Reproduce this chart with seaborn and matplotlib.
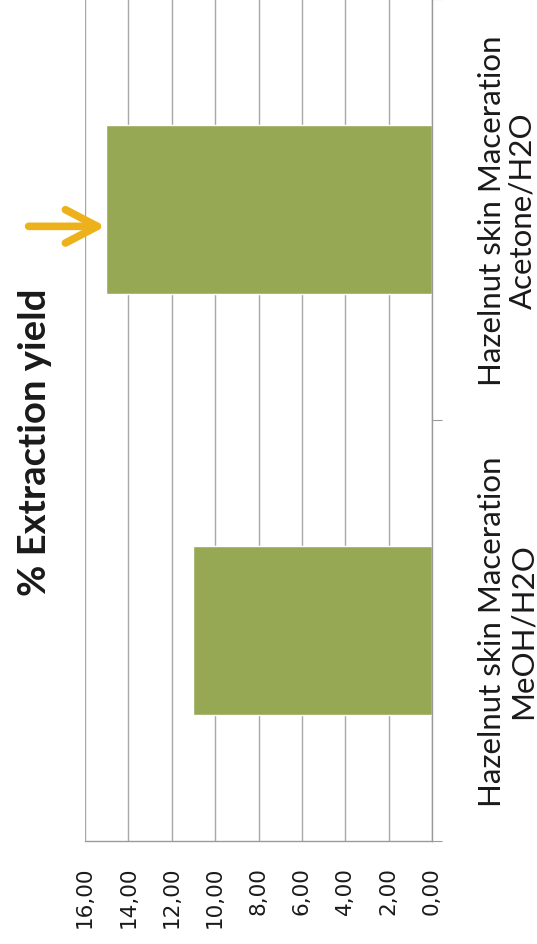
import matplotlib
matplotlib.use("Agg")
import matplotlib.pyplot as plt
import matplotlib.ticker as mticker
import seaborn as sns
import pandas as pd

categories = ["Hazelnut skin Maceration\nMeOH/H2O", "Hazelnut skin Maceration\nAcetone/H2O"]
yields = [11.0, 15.05]
tick_values = [0, 2, 4, 6, 8, 10, 12, 14, 16]
title = "% Extraction yield"

df = pd.DataFrame({"Category": categories, "Yield": yields})

sns.set_style("white")
plt.rcParams["font.family"] = ["DejaVu Sans"]

fig = plt.figure(figsize=(5.37, 9.45), dpi=100)
ax = fig.add_axes([85 / 537, 1 - 842 / 945, 347 / 537, 842 / 945])

# chart was a vertical bar chart turned 90 degrees; draw it as horizontal bars
sns.barplot(data=df, x="Yield", y="Category", order=categories[::-1],
            orient="h", color="#97A855", width=0.4, saturation=1, ax=ax)

ax.set_xlim(16, 0)
ax.set_xticks(tick_values)
ax.xaxis.set_major_formatter(mticker.FuncFormatter(lambda v, p: f"{v:.2f}".replace(".", ",")))
ax.grid(axis="x", color="#A8A8A8", linewidth=1.0)
ax.set_axisbelow(True)
ax.set_xlabel("")
ax.set_ylabel("")

for side in ["top", "left"]:
    ax.spines[side].set_visible(False)
for side in ["bottom", "right"]:
    ax.spines[side].set_color("#9A9A9A")
    ax.spines[side].set_linewidth(1.0)

ax.tick_params(axis="x", direction="inout", length=8, width=0.8, color="#9A9A9A",
               pad=14, labelsize=15.5, labelrotation=90, labelcolor="#1A1A1A")
for lbl in ax.get_xticklabels():
    lbl.set_va("top")
    lbl.set_ha("center")

# category labels on the right, boundary ticks between categories
ax.yaxis.tick_right()
ax.set_yticks([0, 1])
ax.set_yticklabels(categories[::-1], rotation=90, family="Lato", fontsize=22.5,
                   va="center", ha="left", multialignment="center", linespacing=1.12,
                   color="#1A1A1A")
ax.set_yticks([-0.5, 0.5, 1.5], minor=True)
ax.tick_params(axis="y", which="major", length=0, pad=33)
ax.tick_params(axis="y", which="minor", length=7, width=0.8, color="#9A9A9A", direction="out")
ax.set_ylim(1.5, -0.5)

fig.text(35 / 537, 1 - 442 / 945, title, rotation=90, ha="center", va="center",
         fontsize=27.5, fontweight="bold", family="Lato", color="#1A1A1A")

# orange arrow pointing at the acetone bar
ax.annotate("", xy=(yields[1], 0.04), xytext=(yields[1] + 3.55, 0.04),
            annotation_clip=False,
            arrowprops=dict(arrowstyle="->,head_length=1.15,head_width=0.6",
                            mutation_scale=20, color="#EDB21B", linewidth=5.5,
                            capstyle="round", joinstyle="round", shrinkA=0, shrinkB=0))

fig.savefig("out.png", dpi=100)
